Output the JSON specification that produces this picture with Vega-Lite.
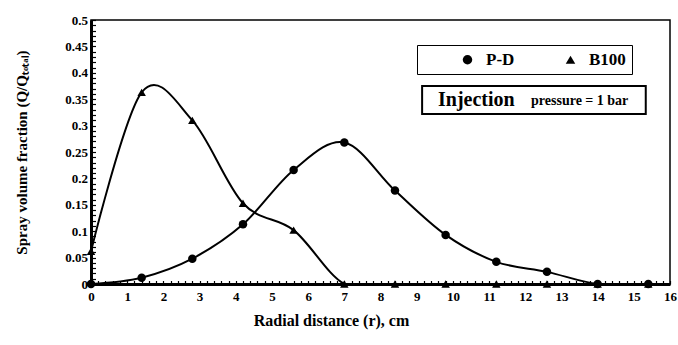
{
  "$schema": "https://vega.github.io/schema/vega-lite/v6.json",
  "width": 579,
  "height": 264,
  "autosize": "none",
  "padding": {"left": 91, "top": 20, "right": 8, "bottom": 61},
  "background": "white",
  "config": {
    "view": {"stroke": "black", "strokeWidth": 1.5},
    "font": "Liberation Serif"
  },
  "data": {
    "values": [
      {"r": 0, "v": 0, "series": "P-D"},
      {"r": 1.4, "v": 0.012, "series": "P-D"},
      {"r": 2.8, "v": 0.048, "series": "P-D"},
      {"r": 4.2, "v": 0.113, "series": "P-D"},
      {"r": 5.6, "v": 0.216, "series": "P-D"},
      {"r": 7, "v": 0.268, "series": "P-D"},
      {"r": 8.4, "v": 0.177, "series": "P-D"},
      {"r": 9.8, "v": 0.093, "series": "P-D"},
      {"r": 11.2, "v": 0.042, "series": "P-D"},
      {"r": 12.6, "v": 0.023, "series": "P-D"},
      {"r": 14, "v": 0, "series": "P-D"},
      {"r": 15.4, "v": 0, "series": "P-D"},
      {"r": 0, "v": 0.062, "series": "B100"},
      {"r": 1.4, "v": 0.363, "series": "B100"},
      {"r": 2.8, "v": 0.31, "series": "B100"},
      {"r": 4.2, "v": 0.153, "series": "B100"},
      {"r": 5.6, "v": 0.102, "series": "B100"},
      {"r": 7, "v": 0, "series": "B100"},
      {"r": 8.4, "v": 0, "series": "B100"},
      {"r": 9.8, "v": 0, "series": "B100"},
      {"r": 11.2, "v": 0, "series": "B100"},
      {"r": 12.6, "v": 0, "series": "B100"},
      {"r": 14, "v": 0, "series": "B100"},
      {"r": 15.4, "v": 0, "series": "B100"}
    ]
  },
  "layer": [
    {
      "encoding": {
        "x": {"field": "r", "type": "quantitative", "scale": {"domain": [0, 16], "nice": false},
          "axis": {"title": "Radial distance (r), cm", "titleFont": "Liberation Serif", "titleFontWeight": "bold", "titleFontSize": 16, "titleColor": "black",
            "titleX": 240, "titleY": 36, "titleAlign": "center", "titleBaseline": "middle",
            "labelFont": "Liberation Serif", "labelFontWeight": "bold", "labelFontSize": 13, "labelColor": "black",
            "labelOverlap": false, "labelFlush": false,
            "values": [0,0.2,0.4,0.6,0.8,1,1.2,1.4,1.6,1.8,2,2.2,2.4,2.6,2.8,3,3.2,3.4,3.6,3.8,4,4.2,4.4,4.6,4.8,5,5.2,5.4,5.6,5.8,6,6.2,6.4,6.6,6.8,7,7.2,7.4,7.6,7.8,8,8.2,8.4,8.6,8.8,9,9.2,9.4,9.6,9.8,10,10.2,10.4,10.6,10.8,11,11.2,11.4,11.6,11.8,12,12.2,12.4,12.6,12.8,13,13.2,13.4,13.6,13.8,14,14.2,14.4,14.6,14.8,15,15.2,15.4,15.6,15.8,16],
            "labelExpr": "abs(datum.value - round(datum.value)) < 0.001 ? '' + round(datum.value) : ''",
            "ticks": true, "tickColor": "black", "tickWidth": 1.2, "tickSize": -3.5, "tickOpacity": 1,
            "domain": true, "domainColor": "black", "domainWidth": 3, "grid": false, "labelPadding": 10}},
        "y": {"field": "v", "type": "quantitative", "scale": {"domain": [0, 0.5], "nice": false},
          "axis": {"title": "Spray volume fraction (Q/Qₜₒₜₐₗ)", "titleFont": "Liberation Serif", "titleFontWeight": "bold", "titleFontSize": 15, "titleColor": "black",
            "titleX": -70, "titleY": 132, "titleAngle": -90, "titleAlign": "center", "titleBaseline": "middle",
            "labelFont": "Liberation Serif", "labelFontWeight": "bold", "labelFontSize": 13, "labelColor": "black",
            "labelOverlap": false, "labelFlush": false,
            "values": [0,0.01,0.02,0.03,0.04,0.05,0.06,0.07,0.08,0.09,0.1,0.11,0.12,0.13,0.14,0.15,0.16,0.17,0.18,0.19,0.2,0.21,0.22,0.23,0.24,0.25,0.26,0.27,0.28,0.29,0.3,0.31,0.32,0.33,0.34,0.35,0.36,0.37,0.38,0.39,0.4,0.41,0.42,0.43,0.44,0.45,0.46,0.47,0.48,0.49,0.5],
            "labelExpr": "abs(datum.value * 20 - round(datum.value * 20)) < 0.001 ? format(datum.value, '.2~f') : ''",
            "ticks": true, "tickColor": "black", "tickWidth": 1.2, "tickSize": -4.5, "tickOpacity": 1,
            "domain": true, "domainColor": "black", "domainWidth": 3, "grid": false, "labelPadding": 8}}
      },
      "layer": [
        {
          "mark": {"type": "line", "interpolate": "cardinal", "tension": 0, "color": "black", "strokeWidth": 2, "clip": true},
          "encoding": {"detail": {"field": "series"}}
        },
        {
          "mark": {"type": "point", "filled": true, "color": "black", "opacity": 1, "size": 72, "clip": false},
          "encoding": {
            "shape": {"field": "series", "type": "nominal", "sort": ["P-D", "B100"],
              "scale": {"domain": ["P-D", "B100"], "range": ["circle", "triangle-up"]},
              "legend": {"title": null, "orient": "none", "legendX": 326, "legendY": 25, "direction": "horizontal",
                "strokeColor": "black", "padding": 6, "fillColor": "white",
                "labelFont": "Liberation Serif", "labelFontWeight": "bold", "labelFontSize": 17, "labelColor": "black",
                "labelExpr": "datum.label == 'B100' ? 'B100       ' : datum.label",
                "symbolFillColor": "black", "symbolStrokeColor": "black", "symbolOpacity": 1, "symbolSize": 90, "symbolStrokeWidth": 1,
                "symbolOffset": 36, "labelOffset": 10, "columnPadding": 11,
                "encode": {"legend": {"strokeWidth": {"value": 2}}}}}
          }
        }
      ]
    },
    {
      "data": {"values": [{}]},
      "encoding": {
        "x": {"datum": 9.15, "type": "quantitative", "scale": {"domain": [0, 16], "nice": false},
          "axis": {"title": "Radial distance (r), cm", "titleFont": "Liberation Serif", "titleFontWeight": "bold", "titleFontSize": 16, "titleColor": "black",
            "titleX": 240, "titleY": 36, "titleAlign": "center", "titleBaseline": "middle",
            "labelFont": "Liberation Serif", "labelFontWeight": "bold", "labelFontSize": 13, "labelColor": "black",
            "labelOverlap": false, "labelFlush": false,
            "values": [0,0.2,0.4,0.6,0.8,1,1.2,1.4,1.6,1.8,2,2.2,2.4,2.6,2.8,3,3.2,3.4,3.6,3.8,4,4.2,4.4,4.6,4.8,5,5.2,5.4,5.6,5.8,6,6.2,6.4,6.6,6.8,7,7.2,7.4,7.6,7.8,8,8.2,8.4,8.6,8.8,9,9.2,9.4,9.6,9.8,10,10.2,10.4,10.6,10.8,11,11.2,11.4,11.6,11.8,12,12.2,12.4,12.6,12.8,13,13.2,13.4,13.6,13.8,14,14.2,14.4,14.6,14.8,15,15.2,15.4,15.6,15.8,16],
            "labelExpr": "abs(datum.value - round(datum.value)) < 0.001 ? '' + round(datum.value) : ''",
            "ticks": true, "tickColor": "black", "tickWidth": 1.2, "tickSize": -3.5, "tickOpacity": 1,
            "domain": true, "domainColor": "black", "domainWidth": 3, "grid": false, "labelPadding": 10}},
        "x2": {"datum": 15.33},
        "y": {"datum": 0.375, "type": "quantitative", "scale": {"domain": [0, 0.5], "nice": false},
          "axis": {"title": "Spray volume fraction (Q/Qₜₒₜₐₗ)", "titleFont": "Liberation Serif", "titleFontWeight": "bold", "titleFontSize": 15, "titleColor": "black",
            "titleX": -70, "titleY": 132, "titleAngle": -90, "titleAlign": "center", "titleBaseline": "middle",
            "labelFont": "Liberation Serif", "labelFontWeight": "bold", "labelFontSize": 13, "labelColor": "black",
            "labelOverlap": false, "labelFlush": false,
            "values": [0,0.01,0.02,0.03,0.04,0.05,0.06,0.07,0.08,0.09,0.1,0.11,0.12,0.13,0.14,0.15,0.16,0.17,0.18,0.19,0.2,0.21,0.22,0.23,0.24,0.25,0.26,0.27,0.28,0.29,0.3,0.31,0.32,0.33,0.34,0.35,0.36,0.37,0.38,0.39,0.4,0.41,0.42,0.43,0.44,0.45,0.46,0.47,0.48,0.49,0.5],
            "labelExpr": "abs(datum.value * 20 - round(datum.value * 20)) < 0.001 ? format(datum.value, '.2~f') : ''",
            "ticks": true, "tickColor": "black", "tickWidth": 1.2, "tickSize": -4.5, "tickOpacity": 1,
            "domain": true, "domainColor": "black", "domainWidth": 3, "grid": false, "labelPadding": 8}},
        "y2": {"datum": 0.322}
      },
      "mark": {"type": "rect", "fill": "white", "stroke": "black", "strokeWidth": 2}
    },
    {
      "data": {"values": [{}]},
      "mark": {"type": "text", "align": "left", "baseline": "middle", "font": "Liberation Serif", "fontWeight": "bold", "fontSize": 20, "color": "black", "text": "Injection", "x": {"expr": "scale('x', 9.59)"}, "y": {"expr": "scale('y', 0.349)"}},
      "encoding": {}
    },
    {
      "data": {"values": [{}]},
      "mark": {"type": "text", "align": "left", "baseline": "middle", "font": "Liberation Serif", "fontWeight": "bold", "fontSize": 14, "color": "black", "text": "pressure = 1 bar", "x": {"expr": "scale('x', 12.16)"}, "y": {"expr": "scale('y', 0.346)"}},
      "encoding": {}
    }
  ]
}
